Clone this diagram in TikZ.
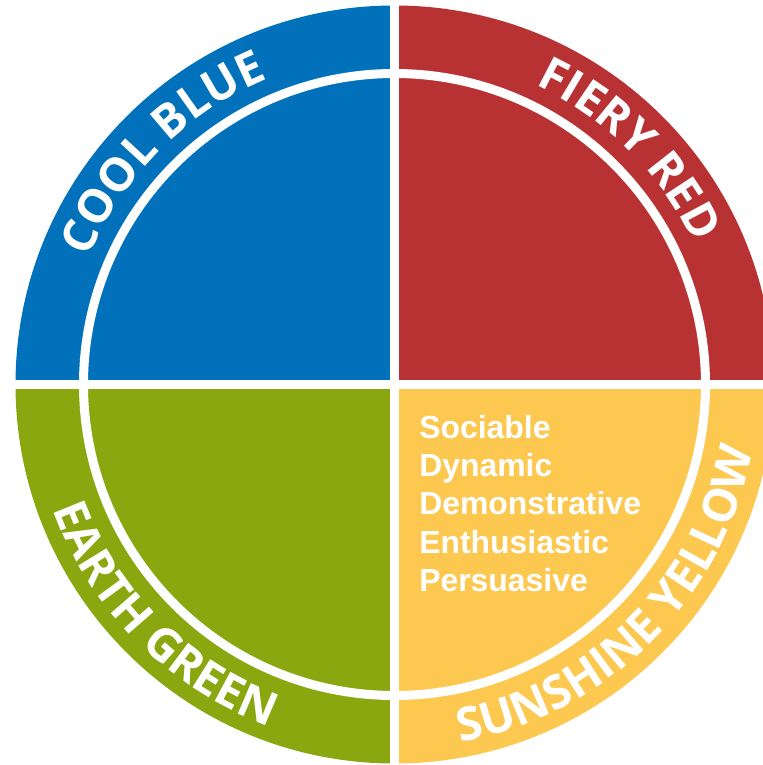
\documentclass[tikz,border=0pt]{standalone}
\usepackage{fontspec}
\setmainfont{Liberation Sans}
\newfontfamily\ringfont{Open Sans}
\usetikzlibrary{decorations.text}
\definecolor{coolblue}{RGB}{0,113,186}
\definecolor{fieryred}{RGB}{184,50,52}
\definecolor{earthgreen}{RGB}{139,167,16}
\definecolor{sunyellow}{RGB}{252,200,80}
\tikzset{
    gap/.style = {draw=white, line width=0.225cm},
    ringname/.style = {decorate, decoration={text along path, text align=center,
        text={|\ringfont\bfseries\fontsize{33}{38}\selectfont\color{white}|#1}}},
}
\begin{document}
\begin{tikzpicture}[x = 0.025cm, y = 0.025cm]
    \useasboundingbox (-394.5,-380.5) rectangle (368.5,384.5);
    \clip (-394.5,-380.5) rectangle (368.5,384.5);
    % quadrants
    \fill [coolblue] (0,0) -- (90:379) arc (90:180:379) -- cycle;
    \fill [fieryred] (0,0) -- (0:379) arc (0:90:379) -- cycle;
    \fill [earthgreen] (0,0) -- (180:379) arc (180:270:379) -- cycle;
    \fill [sunyellow] (0,0) -- (270:379) arc (270:360:379) -- cycle;
    % white ring and cross
    \draw [gap] (0,0) circle (311);
    \draw [gap] (-390,0) -- (390,0);
    \draw [gap] (0,-390) -- (0,390);
    % curved names
    \path [ringname={COOL BLUE}] (185:331) arc (185:85:331);
    \path [ringname={FIERY RED}] (95:331) arc (95:-5:331);
    \path [ringname={EARTH GREEN}] (170:364) arc (170:280:364);
    \path [ringname={SUNSHINE YELLOW}] (255:364) arc (255:375:364);
    % traits
    \node [anchor=north west, inner sep=0, align=left, text=white,
        font=\bfseries\fontsize{22.7}{27.2}\selectfont] (traits) at (24.5,-30.5)
        {Sociable\\Dynamic\\Demonstrative\\Enthusiastic\\Persuasive};
\end{tikzpicture}
\end{document}
